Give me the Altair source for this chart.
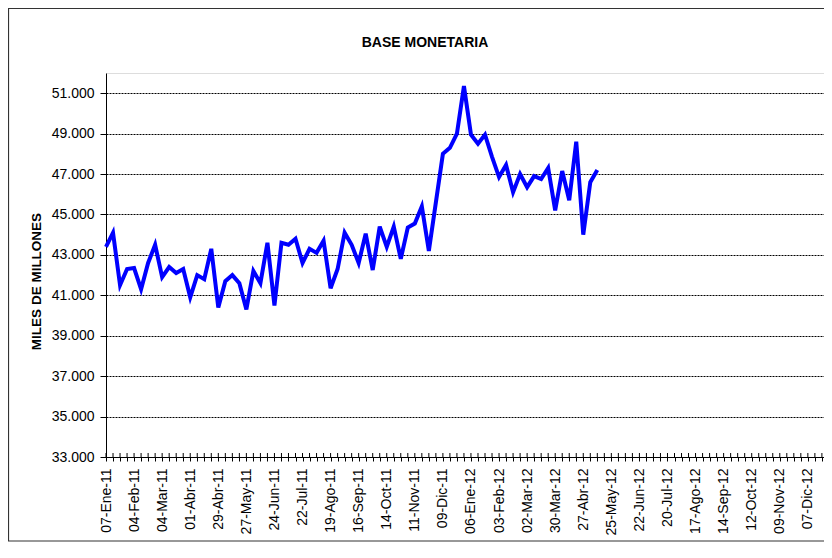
import altair as alt
import pandas as pd

# Weekly monetary base (miles de millones), from 07-Ene-11
base_monetaria = [
    43400, 44100, 41500, 42300, 42350, 41300, 42600, 43500, 41900, 42400,
    42100, 42300, 40900, 42000, 41800, 43300, 40400, 41700, 42000, 41600,
    40300, 42200, 41600, 43600, 40500, 43600, 43500, 43800, 42600, 43300,
    43100, 43700, 41350, 42300, 44100, 43500, 42600, 44050, 42250, 44400,
    43400, 44400, 42800, 44350, 44550, 45400, 43200, 45600, 48000, 48300,
    49000, 51350, 48950, 48500, 48950, 47850, 46850, 47450, 46100, 47000,
    46350, 46900, 46750, 47300, 45200, 47150, 45700, 48600, 44000, 46600,
    47200,
]

# Category labels shown every 4 weeks
etiquetas_x = [
    "07-Ene-11", "04-Feb-11", "04-Mar-11", "01-Abr-11", "29-Abr-11", "27-May-11",
    "24-Jun-11", "22-Jul-11", "19-Ago-11", "16-Sep-11", "14-Oct-11", "11-Nov-11",
    "09-Dic-11", "06-Ene-12", "03-Feb-12", "02-Mar-12", "30-Mar-12", "27-Abr-12",
    "25-May-12", "22-Jun-12", "20-Jul-12", "17-Ago-12", "14-Sep-12", "12-Oct-12",
    "09-Nov-12", "07-Dic-12",
]
semanas_eje = list(range(0, 103))
ticks_y = [33000, 35000, 37000, 39000, 41000, 43000, 45000, 47000, 49000, 51000]
titulo = "BASE MONETARIA"

df = pd.DataFrame({"semana": list(range(len(base_monetaria))), "valor": base_monetaria})
df_ticks = pd.DataFrame({"semana": semanas_eje})

arr = "[" + ",".join("'" + s + "'" for s in etiquetas_x) + "]"
label_expr = f"datum.value % 4 == 0 ? {arr}[datum.value / 4] : ''"

FONT = "Liberation Sans"
W, H = 718, 384

x_scale = alt.Scale(domain=[0, 102.3], nice=False, zero=False)
y_scale = alt.Scale(domain=[33000, 52000], nice=False, zero=False)

x_axis = alt.Axis(
    values=semanas_eje, labelExpr=label_expr, labelAngle=270, labelFontSize=14,
    labelFont=FONT, labelColor="black", labelOverlap=False, labelBound=False,
    labelFlush=False, tickSize=4, tickColor="black", domainColor="black",
    labelPadding=7, grid=False, title=None,
)
y_axis = alt.Axis(
    values=ticks_y, labelExpr="replace(format(datum.value, ','), ',', '.')",
    labelFontSize=14, labelFont=FONT, labelColor="black", tickSize=6,
    tickColor="black", domainColor="black", labelPadding=6,
    grid=True, gridColor="black", gridDash=[2, 1], gridWidth=1,
    title="MILES DE MILLONES", titleFont=FONT, titleFontSize=13.5,
    titleFontWeight="bold", titleColor="black", titleAngle=270,
    titleX=-66, titleY=208, titleAlign="center", titleBaseline="alphabetic",
)

line = alt.Chart(df).mark_line(color="#0000FF", strokeWidth=4, strokeJoin="miter").encode(
    x=alt.X("semana:Q", scale=x_scale, axis=x_axis),
    y=alt.Y("valor:Q", scale=y_scale, axis=y_axis),
)

inner_ticks = alt.Chart(df_ticks).mark_rule(color="black", strokeWidth=1).encode(
    x=alt.X("semana:Q", scale=x_scale, axis=x_axis),
    y=alt.value(H - 4),
    y2=alt.value(H),
)

frame = alt.Chart(alt.Data(values=[{"k": 1}])).mark_rect(
    fill=None, stroke="#333333", strokeWidth=1.2
).encode(
    x=alt.value(-97.5), x2=alt.value(760), y=alt.value(-64.5), y2=alt.value(H + 84)
)

title_mark = alt.Chart(alt.Data(values=[{"t": titulo}])).mark_text(
    font=FONT, fontSize=14, fontWeight="bold", color="black",
    align="center", baseline="middle",
).encode(
    text="t:N", x=alt.value(319), y=alt.value(-30)
)

chart = alt.layer(frame, line, inner_ticks, title_mark).properties(
    width=W, height=H,
    padding={"left": 98, "top": 65, "right": 0, "bottom": 85},
    autosize=alt.AutoSizeParams(type="none"),
).configure_view(stroke="black", strokeWidth=1).configure(background="white")

chart.save("out.html", embed_options={"renderer": "svg", "actions": False})
